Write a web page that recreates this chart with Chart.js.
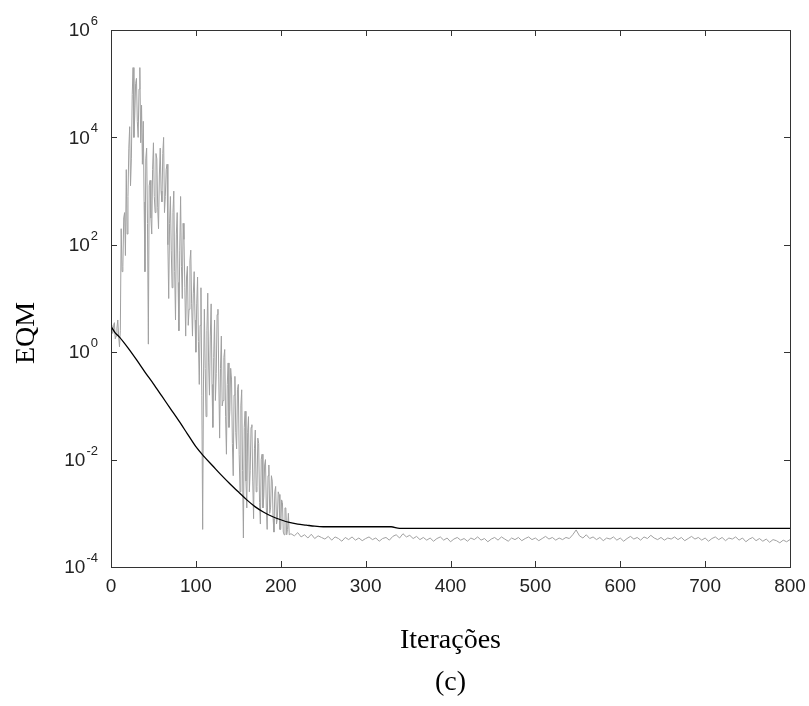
<!DOCTYPE html>
<html lang="en">
<head>
    <meta charset="UTF-8">
    <title>EQM x Iterações</title>
    <style>
        body { margin: 0; background: #ffffff; }
        #chart { display: block; }
    </style>
</head>
<body>
    <canvas id="chart" width="809" height="706"></canvas>
    <script src="https://cdn.jsdelivr.net/npm/chart.js@4.4.0/dist/chart.umd.min.js"></script>
    <script>
        // axis ticks
        const xTicks = [0, 100, 200, 300, 400, 500, 600, 700, 800];
        const yTickExps = [-4, -2, 0, 2, 4, 6];

        // black curve (smooth), log10 of EQM
        const blackIter = [0, 5, 10, 20, 30, 40, 50, 60, 70, 80, 90, 100, 110, 120, 130, 140, 150, 160, 170, 180, 190, 200, 210, 220, 230, 240, 250, 330, 340, 800];
        const blackLog = [0.48, 0.36, 0.28, 0.08, -0.14, -0.37, -0.59, -0.82, -1.05, -1.28, -1.52, -1.76, -1.95, -2.12, -2.29, -2.45, -2.60, -2.75, -2.88, -2.98, -3.06, -3.12, -3.17, -3.20, -3.22, -3.24, -3.25, -3.25, -3.28, -3.28];

        // gray curve (noisy), log10 values; first part one per iteration, 0..210
        const grayHeadLog = [
            0.5, 0.4, 0.35, 0.5, 0.55, 0.25, 0.3, 0.45, 0.6, 0.3,
            0.1, 0.4, 2.3, 1.5, 1.6, 2.5, 2.6, 1.8, 3.4, 2.2,
            2.9, 3.8, 4.2, 3.1, 3.6, 4.8, 5.3, 4.0, 4.4, 5.0,
            5.1, 4.3, 4.0, 4.9, 5.3, 3.9, 4.6, 3.5, 4.3, 2.8,
            1.5, 3.6, 3.8, 2.4, 0.15, 3.1, 3.2, 2.5, 2.2, 3.4,
            3.9, 2.9, 2.6, 3.7, 3.6, 2.7, 2.3, 3.3, 3.8, 3.0,
            2.8, 3.7, 4.0, 2.6, 2.9, 3.4, 3.5, 2.0, 1.0, 2.4,
            2.9, 1.9, 1.2, 2.6, 3.0, 1.5, 0.6, 2.2, 2.6, 1.3,
            0.4, 1.9, 2.9, 1.6, 1.0, 2.4, 2.1, 1.2, 0.3, 1.4,
            1.6, 0.5, 0.8, 1.7, 1.9, 0.9, 0.3, 1.1, 1.5, 0.6,
            0.0, 0.9, 1.4, 0.2, -0.6, 0.5, 1.2, -0.8, -3.3, -0.5,
            0.8, -0.3, -1.2, 0.4, 1.1, -0.2, -0.8, 0.3, 0.9, -0.6,
            -1.4, -0.1, 0.6, -0.9, -0.4, 0.7, 0.8, -0.5, -1.6, -0.3,
            0.3, -1.0, -0.9, -0.1, 0.05, -1.2, -1.9, -0.6, -0.2, -1.4,
            -1.1, -0.3, -0.5, -1.7, -2.3, -0.8, -0.45, -1.5, -1.8, -0.7,
            -0.6, -1.9, -2.6, -1.0, -0.7, -2.2, -3.46, -1.4, -1.1, -2.4,
            -2.9, -1.5, -1.2, -2.6, -2.2, -1.4, -1.35, -2.4, -3.1, -1.8,
            -1.45, -2.6, -2.5, -1.6, -1.7, -2.8, -3.2, -2.0, -1.9, -2.9,
            -2.7, -2.1, -2.0, -2.9, -3.3, -2.3, -2.1, -3.0, -2.9, -2.3,
            -2.4, -3.1, -3.35, -2.6, -2.5, -3.2, -3.1, -2.6, -2.65, -3.3,
            -3.3, -2.75, -2.8, -3.35, -3.4, -2.9, -2.9, -3.4, -3.3, -3.0,
            -3.4
        ];
        // second part every 4 iterations from 212 to 800
        const grayTailStart = 212;
        const grayTailStep = 4;
        const grayTailLog = [
            -3.38, -3.42, -3.36, -3.44, -3.40, -3.46, -3.39, -3.47, -3.42, -3.45,
            -3.48, -3.43, -3.50, -3.44, -3.47, -3.52, -3.45, -3.49, -3.44, -3.50,
            -3.46, -3.51, -3.47, -3.44, -3.49, -3.46, -3.52, -3.47, -3.45, -3.50,
            -3.43, -3.40, -3.46, -3.38, -3.44, -3.41, -3.47, -3.43, -3.49, -3.45,
            -3.50, -3.46, -3.52, -3.47, -3.44, -3.50, -3.46, -3.53, -3.48, -3.45,
            -3.50, -3.47, -3.52, -3.46, -3.49, -3.44, -3.50, -3.47, -3.53, -3.48,
            -3.45, -3.50, -3.44, -3.48, -3.52, -3.46, -3.49, -3.45, -3.51, -3.47,
            -3.44, -3.49, -3.46, -3.51, -3.47, -3.43, -3.48, -3.45, -3.50, -3.46,
            -3.49, -3.45, -3.47, -3.40, -3.31, -3.42, -3.46, -3.40, -3.47, -3.44,
            -3.49, -3.45, -3.51, -3.46, -3.48, -3.44, -3.50, -3.46, -3.52, -3.47,
            -3.43, -3.48, -3.45, -3.50, -3.44, -3.47, -3.41, -3.46, -3.49, -3.45,
            -3.50, -3.46, -3.48, -3.44, -3.49, -3.45, -3.51, -3.47, -3.43, -3.48,
            -3.45, -3.50, -3.46, -3.52, -3.47, -3.44, -3.49, -3.45, -3.51, -3.46,
            -3.48, -3.44, -3.50, -3.46, -3.53, -3.48, -3.45, -3.51, -3.47, -3.52,
            -3.48, -3.54, -3.49, -3.51, -3.55, -3.50, -3.53, -3.49
        ];

        const blackPts = blackIter.map((it, i) => ({ x: it, y: Math.pow(10, blackLog[i]) }));
        const grayPts = grayHeadLog.map((v, i) => ({ x: i, y: Math.pow(10, v) }))
            .concat(grayTailLog.map((v, i) => ({ x: grayTailStart + i * grayTailStep, y: Math.pow(10, v) })));

        const tickFont = '19px "Liberation Sans", Arial, sans-serif';
        const supFont = '13px "Liberation Sans", Arial, sans-serif';
        const serif = '"Liberation Serif", "Times New Roman", serif';

        // box, inside ticks, tick labels and titles
        const framePlugin = {
            id: 'frame',
            afterDraw(chart) {
                const c = chart.ctx;
                const a = chart.chartArea;
                const xs = chart.scales.x, ys = chart.scales.y;
                c.save();
                c.strokeStyle = '#333';
                c.lineWidth = 1;
                c.strokeRect(Math.round(a.left) + 0.5, Math.round(a.top) + 0.5, Math.round(a.width), Math.round(a.height));
                c.beginPath();
                xTicks.forEach(t => {
                    const px = Math.round(xs.getPixelForValue(t)) + 0.5;
                    c.moveTo(px, a.bottom); c.lineTo(px, a.bottom - 6);
                    c.moveTo(px, a.top); c.lineTo(px, a.top + 6);
                });
                yTickExps.forEach(e => {
                    const py = Math.round(ys.getPixelForValue(Math.pow(10, e))) + 0.5;
                    c.moveTo(a.left, py); c.lineTo(a.left + 6, py);
                    c.moveTo(a.right, py); c.lineTo(a.right - 6, py);
                });
                c.stroke();

                c.fillStyle = '#222';
                c.font = tickFont;
                c.textAlign = 'center';
                c.textBaseline = 'top';
                xTicks.forEach(t => {
                    c.fillText(String(t), xs.getPixelForValue(t), a.bottom + 10);
                });

                yTickExps.forEach(e => {
                    const py = ys.getPixelForValue(Math.pow(10, e));
                    c.font = supFont;
                    c.textAlign = 'right';
                    c.textBaseline = 'alphabetic';
                    const exp = String(e);
                    const expW = c.measureText(exp).width;
                    c.fillText(exp, a.left - 13, py - 5);
                    c.font = tickFont;
                    c.textBaseline = 'middle';
                    c.fillText('10', a.left - 13 - expW - 1, py + 1);
                });

                c.fillStyle = '#000';
                c.font = '28px ' + serif;
                c.textAlign = 'center';
                c.textBaseline = 'middle';
                c.fillText('Iterações', (a.left + a.right) / 2, 641);
                c.fillText('(c)', (a.left + a.right) / 2, 683);

                c.translate(27, 333);
                c.rotate(-Math.PI / 2);
                c.fillText('EQM', 0, 0);
                c.restore();
            }
        };

        new Chart(document.getElementById('chart'), {
            type: 'line',
            data: {
                datasets: [
                    { data: blackPts, borderColor: '#000000', borderWidth: 1.3, pointRadius: 0, cubicInterpolationMode: 'monotone' },
                    { data: grayPts, borderColor: '#a0a0a0', borderWidth: 1, pointRadius: 0, tension: 0 }
                ]
            },
            options: {
                responsive: false,
                animation: false,
                devicePixelRatio: 1,
                layout: { padding: { left: 111, right: 19, top: 30, bottom: 139 } },
                plugins: { legend: { display: false }, tooltip: { enabled: false } },
                scales: {
                    x: { type: 'linear', min: 0, max: 800, display: false },
                    y: { type: 'logarithmic', min: 1e-4, max: 1e6, display: false }
                }
            },
            plugins: [framePlugin]
        });
    </script>
</body>
</html>
